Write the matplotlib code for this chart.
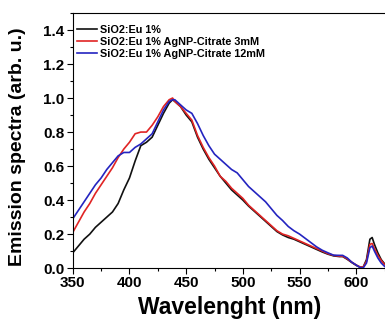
import matplotlib
matplotlib.use('Agg')
import matplotlib.pyplot as plt
from matplotlib.ticker import MultipleLocator

plt.rcParams['font.family'] = ['Liberation Sans', 'DejaVu Sans']
plt.rcParams['font.weight'] = 'bold'

wl = [350, 355, 360, 365, 370, 375, 380, 385, 390, 395, 400, 405, 410, 415, 420,
      425, 430, 435, 438, 440, 445, 450, 455, 460, 465, 470, 475, 480, 485, 490,
      495, 500, 505, 510, 515, 520, 525, 530, 535, 540, 545, 550, 555, 560, 565,
      570, 575, 580, 585, 588, 592, 596, 600, 603, 606, 609, 612, 614, 616, 619,
      622, 625]

eu = [0.09, 0.13, 0.17, 0.20, 0.24, 0.27, 0.30, 0.33, 0.38, 0.46, 0.53, 0.63, 0.72, 0.74, 0.77,
      0.84, 0.91, 0.97, 0.99, 0.98, 0.95, 0.90, 0.86, 0.77, 0.70, 0.64, 0.59, 0.54, 0.50, 0.46,
      0.43, 0.40, 0.365, 0.335, 0.305, 0.275, 0.245, 0.215, 0.195, 0.18, 0.17, 0.155, 0.14, 0.125, 0.11,
      0.095, 0.082, 0.072, 0.068, 0.068, 0.052, 0.033, 0.016, 0.007, 0.005, 0.05, 0.17, 0.18, 0.14, 0.09,
      0.05, 0.025]

cit3 = [0.21, 0.27, 0.33, 0.38, 0.44, 0.49, 0.54, 0.59, 0.65, 0.70, 0.74, 0.79, 0.80, 0.80, 0.84,
        0.89, 0.95, 0.99, 1.00, 0.98, 0.95, 0.91, 0.87, 0.78, 0.71, 0.65, 0.60, 0.54, 0.51, 0.47,
        0.44, 0.41, 0.37, 0.34, 0.31, 0.28, 0.25, 0.22, 0.20, 0.19, 0.175, 0.16, 0.145, 0.13, 0.115,
        0.10, 0.085, 0.075, 0.07, 0.07, 0.055, 0.035, 0.018, 0.008, 0.005, 0.04, 0.14, 0.145, 0.115, 0.075,
        0.045, 0.02]

cit12 = [0.29, 0.34, 0.39, 0.44, 0.49, 0.53, 0.58, 0.62, 0.66, 0.68, 0.68, 0.71, 0.73, 0.76, 0.79,
         0.86, 0.93, 0.98, 0.99, 0.99, 0.96, 0.93, 0.91, 0.85, 0.78, 0.72, 0.67, 0.64, 0.61, 0.58,
         0.56, 0.52, 0.48, 0.45, 0.42, 0.39, 0.35, 0.31, 0.28, 0.245, 0.22, 0.20, 0.175, 0.15, 0.125,
         0.105, 0.09, 0.076, 0.075, 0.075, 0.06, 0.035, 0.018, 0.005, 0.0, 0.03, 0.12, 0.13, 0.10, 0.06,
         0.03, 0.01]

labels = ['SiO2:Eu 1%', 'SiO2:Eu 1% AgNP-Citrate 3mM', 'SiO2:Eu 1% AgNP-Citrate 12mM']
colors = ['#111111', '#e02424', '#2424c0']

fig = plt.figure(figsize=(3.85, 3.25), dpi=100)
ax = fig.add_axes([0.189, 0.175, 0.813, 0.785])

for y, lab, c in zip([eu, cit3, cit12], labels, colors):
    ax.plot(wl, y, color=c, lw=1.2, label=lab)

ax.set_xlim(350, 626)
ax.set_ylim(0, 1.5)
ax.xaxis.set_major_locator(MultipleLocator(50))
ax.xaxis.set_minor_locator(MultipleLocator(25))
ax.yaxis.set_minor_locator(MultipleLocator(0.1))
ax.set_yticks([0.0, 0.2, 0.4, 0.6, 0.8, 1.0, 1.2, 1.4])
ax.tick_params(which='major', direction='out', length=4, width=0.8, labelsize=11, pad=2)
ax.tick_params(which='minor', direction='out', length=2.5, width=0.8)
for t in ax.get_xticklabels() + ax.get_yticklabels():
    t.set_fontweight('bold')

ax.set_xlabel('Wavelenght (nm)', fontsize=16.5, fontweight='bold', labelpad=4)
ax.set_ylabel('Emission spectra (arb. u.)', fontsize=14, fontweight='bold')
ax.yaxis.set_label_coords(-0.148, 0.475)

leg = ax.legend(loc='upper left', bbox_to_anchor=(-0.006, 0.98), frameon=False,
                handlelength=1.8, labelspacing=0.2, borderaxespad=0.2, borderpad=0.4,
                handletextpad=0.3, prop={'weight': 'bold', 'size': 7.8})

fig.savefig('out.png', dpi=100)
